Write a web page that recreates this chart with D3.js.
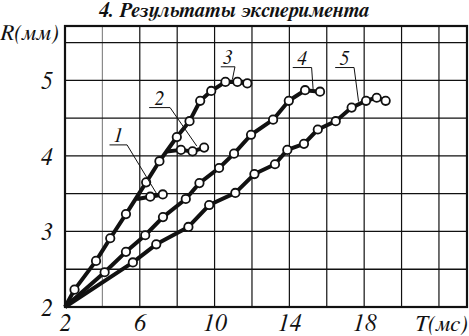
<!DOCTYPE html>
<html><head><meta charset="utf-8">
<script src="https://cdn.jsdelivr.net/npm/d3@7/dist/d3.min.js"></script>
<style>html,body{margin:0;padding:0;background:#fff;}svg{display:block;}
svg text{font-family:FreeSerif,"Liberation Serif","Times New Roman",serif;font-style:italic;}</style>
</head><body>
<svg id="chart" width="469" height="336"></svg>
<script>
// ---- data ----
const titleText = "4. Результаты эксперимента";
const xLabel = "T(мс)";
const yLabel = "R(мм)";
const xTicks = [2, 6, 10, 14, 18];
const yTicks = [2, 3, 4, 5];
const xGrid = [4, 6, 8, 10, 12, 14, 16, 18, 20, 22];
const yGrid = [2.5, 3, 3.5, 4, 4.5, 5, 5.5];
const origin = [2, 2];

// curve 3 (steep common branch, shared by curves 1 & 2)
const c3T = [2.51, 3.66, 4.42, 5.26, 6.34, 7.05, 7.98, 8.66, 9.23, 9.82, 10.58, 11.22, 11.75];
const c3R = [2.23, 2.61, 2.91, 3.23, 3.65, 3.93, 4.25, 4.46, 4.73, 4.86, 4.98, 4.98, 4.96];
// curve 1 (branches off curve 3)
const c1Branch = [5.85, 3.43];
const c1T = [6.56, 7.23];
const c1R = [3.46, 3.49];
// curve 2 (branches off curve 3)
const c2Branch = [7.45, 4.06];
const c2T = [8.20, 8.82, 9.44];
const c2R = [4.08, 4.06, 4.11];
// curve 4
const c4T = [4.12, 5.26, 6.29, 7.24, 8.46, 9.19, 10.24, 11.04, 11.95, 13.13, 13.97, 14.84, 15.64];
const c4R = [2.46, 2.73, 2.95, 3.19, 3.43, 3.64, 3.84, 4.03, 4.28, 4.48, 4.73, 4.87, 4.85];
// curve 5
const c5T = [5.63, 6.88, 8.60, 9.71, 11.11, 12.13, 13.23, 13.89, 14.78, 15.52, 16.48, 17.33, 18.10, 18.67, 19.15];
const c5R = [2.59, 2.83, 3.06, 3.35, 3.51, 3.76, 3.89, 4.08, 4.16, 4.35, 4.46, 4.64, 4.73, 4.77, 4.73];

const curveNames = ["1", "2", "3", "4", "5"];
// label annotation anchors (data units): underline left T, right T, R; leader end T, R
const labelUL = [
  {ulL: 4.38, ulR: 5.32, ulY: 4.146, endT: 6.90, endR: 3.50},
  {ulL: 6.50, ulR: 7.62, ulY: 4.64,  endT: 9.05, endR: 4.13},
  {ulL: 10.33, ulR: 11.09, ulY: 5.18, endT: 10.95, endR: 5.01},
  {ulL: 14.18, ulR: 15.19, ulY: 5.17, endT: 15.27, endR: 4.88},
  {ulL: 16.45, ulR: 17.46, ulY: 5.17, endT: 17.70, endR: 4.72}
];

// ---- drawing ----
const svg = d3.select("#chart");
const W = 469, H = 336;
const m = {left: 65, right: 2, top: 26, bottom: 29};
const x = d3.scaleLinear().domain([2, 23.5]).range([m.left, W - m.right]);
const y = d3.scaleLinear().domain([2, 5.72]).range([H - m.bottom, m.top]);

// grid
const g = svg.append("g");
g.selectAll("line.vx").data(xGrid).enter().append("line")
  .attr("x1", d => x(d)).attr("x2", d => x(d))
  .attr("y1", y(2)).attr("y2", y(5.72))
  .attr("stroke", d => d === 4 ? "#8a8a8a" : "#111").attr("stroke-width", 1.2);
g.selectAll("line.hy").data(yGrid).enter().append("line")
  .attr("x1", x(2)).attr("x2", x(23.5))
  .attr("y1", d => y(d)).attr("y2", d => y(d))
  .attr("stroke", "#111").attr("stroke-width", 1.3);
// frame
svg.append("rect").attr("x", x(2)).attr("y", y(5.72))
  .attr("width", x(23.5) - x(2)).attr("height", y(2) - y(5.72))
  .attr("fill", "none").attr("stroke", "#111").attr("stroke-width", 2.2);

// axes tick labels via d3 axes (domain/ticks hidden)
const xAxis = d3.axisBottom(x).tickValues(xTicks).tickSize(0).tickPadding(7).tickFormat(d3.format("d"));
const xa = svg.append("g").attr("transform", `translate(0,${y(2)})`).call(xAxis);
xa.select(".domain").remove();
xa.attr("font-family", null);
xa.selectAll("text").attr("font-size", 24).attr("fill", "#111").attr("dy", "0.71em");

const yAxis = d3.axisLeft(y).tickValues(yTicks).tickSize(0).tickPadding(12).tickFormat(d3.format("d"));
const ya = svg.append("g").attr("transform", `translate(${x(2)},0)`).call(yAxis);
ya.select(".domain").remove();
ya.attr("font-family", null);
ya.selectAll("text").attr("font-size", 24).attr("fill", "#111").attr("dy", "0.34em");

// axis names
svg.append("text").text(xLabel).attr("x", W - 1).attr("y", 331)
  .attr("text-anchor", "end").attr("font-size", 23).attr("fill", "#111");
svg.append("text").text(yLabel).attr("x", 0).attr("y", 40)
  .attr("font-size", 23).attr("fill", "#111");

// title
svg.append("text").text(titleText).attr("x", 234).attr("y", 17)
  .attr("text-anchor", "middle").attr("font-weight", "bold").attr("font-size", 20.5).attr("fill", "#111");

// curves
const line = d3.line().x(d => x(d[0])).y(d => y(d[1]));
const zip = (T, R) => T.map((t, i) => [t, R[i]]);
const series = [
  {path: [c1Branch, ...zip(c1T, c1R)], pts: zip(c1T, c1R)},
  {path: [c2Branch, ...zip(c2T, c2R)], pts: zip(c2T, c2R)},
  {path: [origin, ...zip(c3T, c3R)], pts: zip(c3T, c3R)},
  {path: [origin, ...zip(c4T, c4R)], pts: zip(c4T, c4R)},
  {path: [origin, ...zip(c5T, c5R)], pts: zip(c5T, c5R)}
];
const cg = svg.append("g");
series.forEach(s => {
  cg.append("path").attr("d", line(s.path)).attr("fill", "none")
    .attr("stroke", "#111").attr("stroke-width", 4).attr("stroke-linejoin", "round");
});
series.forEach(s => {
  cg.selectAll(null).data(s.pts).enter().append("circle")
    .attr("cx", d => x(d[0])).attr("cy", d => y(d[1])).attr("r", 4.2)
    .attr("fill", "#fff").attr("stroke", "#111").attr("stroke-width", 1.8);
});

// curve labels with underline + leader
labelUL.forEach((a, i) => {
  const lg = svg.append("g");
  lg.append("line").attr("x1", x(a.ulL)).attr("x2", x(a.ulR))
    .attr("y1", y(a.ulY)).attr("y2", y(a.ulY)).attr("stroke", "#111").attr("stroke-width", 1);
  lg.append("line").attr("x1", x(a.ulR)).attr("y1", y(a.ulY))
    .attr("x2", x(a.endT)).attr("y2", y(a.endR)).attr("stroke", "#111").attr("stroke-width", 1);
  lg.append("text").text(curveNames[i]).attr("x", (x(a.ulL) + x(a.ulR)) / 2).attr("y", y(a.ulY) - 2.5)
    .attr("text-anchor", "middle").attr("font-size", 20).attr("fill", "#111");
});
</script>
</body></html>
